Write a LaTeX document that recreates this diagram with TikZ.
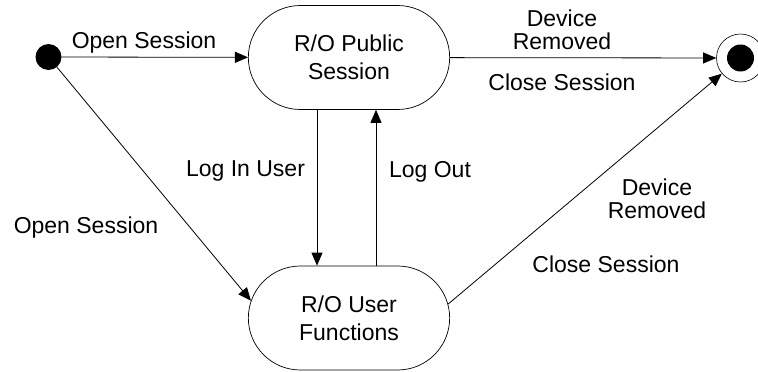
\documentclass[tikz,border=0pt]{standalone}
\usepackage{fontspec}
\setmainfont{Liberation Sans}
\usetikzlibrary{arrows.meta,shapes.misc,positioning}

\begin{document}
\begin{tikzpicture}[x=1pt,y=-1pt,
	state/.style={draw,rounded rectangle,minimum width=208pt,minimum height=104pt,align=center,font=\fontsize{23}{28}\selectfont,line width=0.7pt},
	lbl/.style={align=center,inner sep=0pt,font=\fontsize{23}{23}\selectfont,anchor=base},
	dot/.style={circle,fill,inner sep=0pt}]
	\useasboundingbox (0,0) rectangle (758,372);

	\node[dot,minimum size=26pt](start) at (48.5,57){};
	\node[circle,draw,minimum size=48pt,inner sep=0pt,line width=0.6pt](fin) at (740.5,58){};
	\node[dot,minimum size=27pt](finDot) at (fin.center){};

	\node[state](pub) at (349,57.5){R/O Public\\Session};
	\node[state](usr) at (349,318){R/O User\\Functions};

	% base anchor of a two-line label sits on its last line
	\node[lbl](openTop) at (144,48){Open Session};
	\node[lbl](removedTop) at (562,49){Device\\Removed};
	\node[lbl](closeTop) at (562,90){Close Session};
	\node[lbl](logIn) at (245.5,176){Log In User};
	\node[lbl](logOut) at (430,177){Log Out};
	\node[lbl](openLeft) at (86,233){Open Session};
	\node[lbl](removedRight) at (657,218){Device\\Removed};
	\node[lbl](closeRight) at (606,272){Close Session};

	\path [-{Triangle[length=13pt,width=11pt]},line width=0.8pt]
		(start) edge (pub)
		(pub) edge (fin)
		([xshift=-32pt]pub.south) edge ([xshift=-32pt]usr.north)
		([xshift=27pt]usr.north) edge ([xshift=27pt]pub.south)
		(start) edge (usr.170)
		(usr.8) edge (fin);
\end{tikzpicture}
\end{document}
